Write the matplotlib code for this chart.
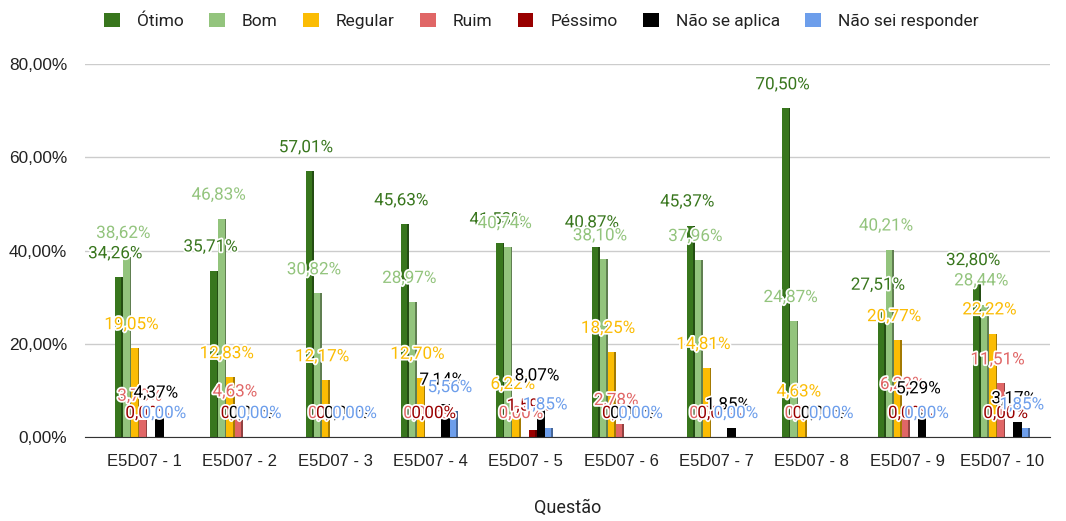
import matplotlib
matplotlib.use("Agg")
import matplotlib.pyplot as plt
import matplotlib.patheffects as pe
from matplotlib.colors import to_rgb
from matplotlib.patches import Patch
import numpy as np

plt.rcParams["font.family"] = ["Roboto", "DejaVu Sans"]

# dados (% por questão)
questoes = [f"E5D07 - {i}" for i in range(1, 11)]
series = ["Ótimo", "Bom", "Regular", "Ruim", "Péssimo", "Não se aplica", "Não sei responder"]
otimo = [34.26, 35.71, 57.01, 45.63, 41.53, 40.87, 45.37, 70.50, 27.51, 32.80]
bom = [38.62, 46.83, 30.82, 28.97, 40.74, 38.10, 37.96, 24.87, 40.21, 28.44]
regular = [19.05, 12.83, 12.17, 12.70, 6.22, 18.25, 14.81, 4.63, 20.77, 22.22]
ruim = [3.70, 4.63, 0.00, 0.00, 0.00, 2.78, 0.00, 0.00, 6.22, 11.51]
pessimo = [0.00, 0.00, 0.00, 0.00, 1.59, 0.00, 0.00, 0.00, 0.00, 0.00]
nao_aplica = [4.37, 0.00, 0.00, 7.14, 8.07, 0.00, 1.85, 0.00, 5.29, 3.17]
nao_sei = [0.00, 0.00, 0.00, 5.56, 1.85, 0.00, 0.00, 0.00, 0.00, 1.85]
valores = [otimo, bom, regular, ruim, pessimo, nao_aplica, nao_sei]
cores = ["#38761d", "#93c47d", "#fbbc04", "#e06666", "#990000", "#000000", "#6d9eeb"]


def escurece(c, f=0.65):
    r, g, b = to_rgb(c)
    return (r * f, g * f, b * f)


def pct(v):
    return f"{v:.2f}%".replace(".", ",")


fig = plt.figure(figsize=(10.66, 5.21), dpi=100)
ax = fig.add_axes([0.080, 0.161, 0.905, 0.716])

x = np.arange(len(questoes))
w = 0.085
for i, (nome, vals, cor) in enumerate(zip(series, valores, cores)):
    pos = x + (i - 3) * w - 0.02
    ax.bar(pos, vals, width=w * 0.8, color=cor, zorder=3, align="center")
    # lateral escura (efeito 3D)
    ax.bar(pos + w * 0.4, vals, width=w * 0.2, color=escurece(cor), zorder=3, align="edge")
    for px, v in zip(pos, vals):
        ax.annotate(pct(v), (px, v), xytext=(-2, 17), textcoords="offset points",
                    ha="center", va="center", fontsize=12.3, color=cor, zorder=5,
                    path_effects=[pe.withStroke(linewidth=2.5, foreground="white")])

ax.set_xlim(-0.62, 9.5)
ax.set_ylim(0, 80)
ax.set_yticks([0, 20, 40, 60, 80])
ax.set_yticklabels([pct(t) for t in [0, 20, 40, 60, 80]])
ax.set_xticks(x)
ax.set_xticklabels(questoes)
ax.tick_params(axis="both", length=0, labelsize=12, colors="#222222")
ax.tick_params(axis="y", labelsize=12.4, pad=13)
ax.tick_params(axis="x", pad=12)
for lbl in ax.get_xticklabels() + ax.get_yticklabels():
    lbl.set_fontfamily(["Liberation Sans", "DejaVu Sans"])
ax.grid(axis="y", color="#cccccc", linewidth=1, zorder=0)
for s in ["top", "right", "left"]:
    ax.spines[s].set_visible(False)
ax.spines["bottom"].set_color("#333333")
ax.spines["bottom"].set_zorder(4)
ax.set_xlabel("Questão", fontsize=13, color="#222222", labelpad=22)

handles = [Patch(facecolor=c, label=n) for n, c in zip(series, cores)]
fig.legend(handles=handles, loc="upper center", bbox_to_anchor=(0.508, 1.005), ncol=7,
           frameon=False, fontsize=12.5, handlelength=0.9, handleheight=0.9,
           handletextpad=1.0, columnspacing=1.45, labelcolor="#222222")

fig.savefig("out.png", dpi=100)
